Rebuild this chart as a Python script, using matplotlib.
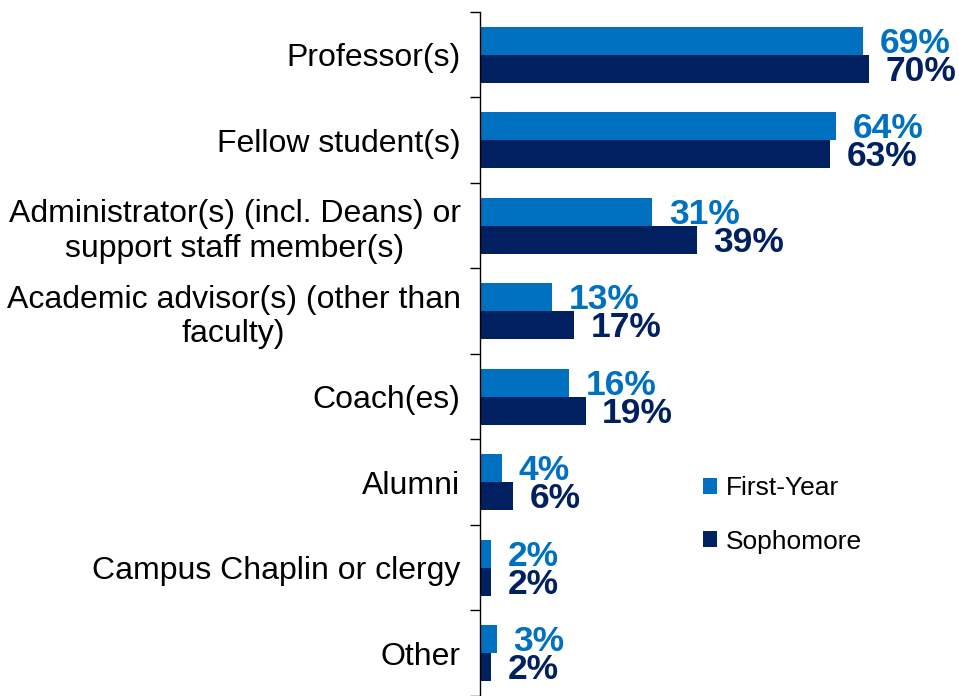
import matplotlib
matplotlib.use("Agg")
import matplotlib.pyplot as plt
from matplotlib.ticker import FixedLocator, NullFormatter

categories = [
    "Professor(s)",
    "Fellow student(s)",
    "Administrator(s) (incl. Deans) or\nsupport staff member(s)",
    "Academic advisor(s) (other than\nfaculty)",
    "Coach(es)",
    "Alumni",
    "Campus Chaplin or clergy",
    "Other",
]
first_year = [69, 64, 31, 13, 16, 4, 2, 3]
sophomore = [70, 63, 39, 17, 19, 6, 2, 2]
series_names = ["First-Year", "Sophomore"]
colors = ["#0070C0", "#002060"]

plt.rcParams["font.family"] = ["Liberation Sans", "DejaVu Sans"]

fig = plt.figure(figsize=(9.59, 6.96), dpi=100)
ax = fig.add_axes([0.5005, 0.0, 0.4995, 0.9828])

h = 0.33
ys = list(range(len(categories)))
for vals, off, col, name in [(first_year, -h / 2, colors[0], series_names[0]),
                             (sophomore, h / 2, colors[1], series_names[1])]:
    pos = [y + off for y in ys]
    ax.barh(pos, vals, height=h, color=col, label=name)
    for p, v in zip(pos, vals):
        ax.annotate(f"{v}%", xy=(v, p), xytext=(12, -1.8), textcoords="offset points",
                    ha="left", va="center", fontsize=25.5, fontweight="bold", color=col,
                    annotation_clip=False)

ax.set_xlim(0, 86.2)
ax.set_ylim(len(categories) - 0.5, -0.5)
ax.set_yticks(ys)
ax.set_yticklabels(categories, fontsize=23, multialignment="center")
ax.yaxis.set_minor_locator(FixedLocator([y - 0.5 for y in range(len(categories) + 1)]))
ax.yaxis.set_minor_formatter(NullFormatter())
ax.tick_params(axis="y", which="major", length=0, pad=14)
ax.tick_params(axis="y", which="minor", length=7.2, width=1.0, color="black")
ax.set_xticks([])
for s in ["top", "right", "bottom"]:
    ax.spines[s].set_visible(False)
ax.spines["left"].set_linewidth(1.0)
ax.spines["left"].set_color("black")

leg = fig.legend(loc="upper left", bbox_to_anchor=(0.733, 0.316), frameon=False,
                 fontsize=19, handlelength=0.55, handleheight=0.55, handletextpad=0.3,
                 labelspacing=1.12, borderpad=0, borderaxespad=0)

fig.savefig("out.png", dpi=100)
